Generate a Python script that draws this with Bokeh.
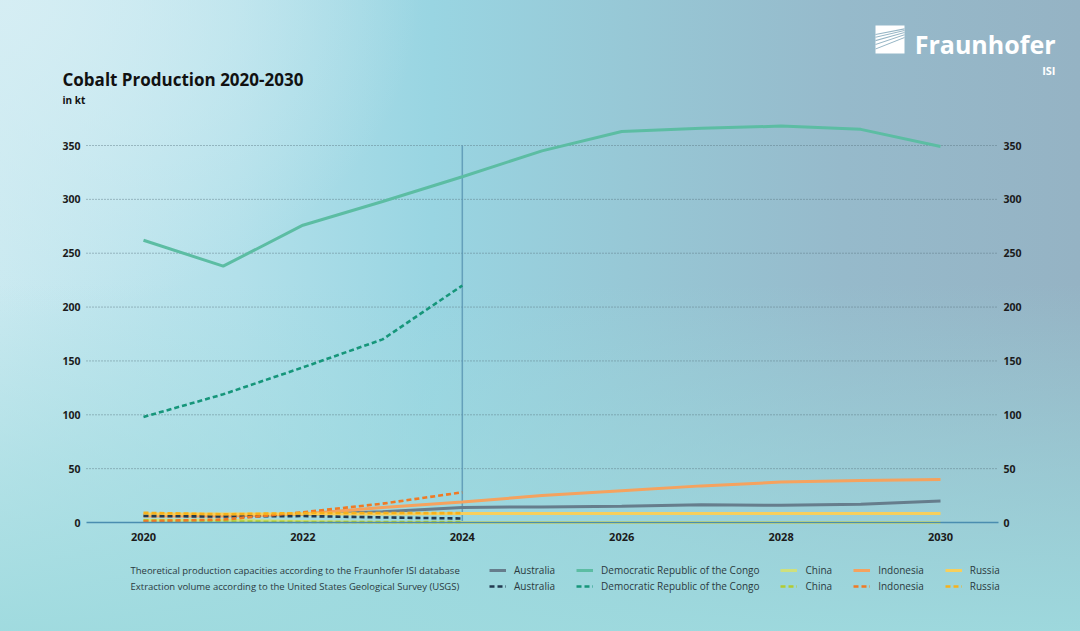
from bokeh.plotting import figure
from bokeh.models import (FixedTicker, Legend, LegendItem, Label, BoxAnnotation,
                          PolyAnnotation, InlineStyleSheet, Range1d, LinearAxis)
from bokeh.embed import file_html
from bokeh.resources import INLINE

# ---------------- data ----------------
years_theo = [2020, 2021, 2022, 2023, 2024, 2025, 2026, 2027, 2028, 2029, 2030]
years_usgs = [2020, 2021, 2022, 2023, 2024]

theo_australia = [6.5, 7, 7.5, 10, 14, 14.5, 15, 16.5, 16, 17, 20]
theo_drc = [262, 238, 276, 298, 321, 345, 363, 366, 368, 365, 349]
theo_china = [2, 2, 1, 0, 0, 0, 0, 0, 0, 0, 0]
theo_indonesia = [6, 6, 8, 14, 19, 25, 29.5, 34, 37.5, 39, 40]
theo_russia = [8, 8, 8, 8, 8.4, 8.4, 8.4, 8.4, 8.4, 8.4, 8.4]

usgs_australia = [6, 5.5, 6, 4.7, 3.7]
usgs_drc = [98, 119, 144, 170, 220]
usgs_china = [2, 1, 0.5, 0.5, 0.5]
usgs_indonesia = [1.3, 2.7, 9.5, 17.5, 28]
usgs_russia = [9, 7.6, 8.8, 8.8, 8.7]

countries = ["Australia", "Democratic Republic of the Congo", "China", "Indonesia", "Russia"]
theo_series = [theo_australia, theo_drc, theo_china, theo_indonesia, theo_russia]
usgs_series = [usgs_australia, usgs_drc, usgs_china, usgs_indonesia, usgs_russia]
theo_colors = ["#667d8c", "#5cbda3", "#cfe07c", "#f5a25e", "#f7cf5c"]
usgs_colors = ["#223a50", "#16967a", "#b2cc30", "#f07a24", "#f6b11c"]

x_ticks = [2020, 2022, 2024, 2026, 2028, 2030]
y_ticks = [0, 50, 100, 150, 200, 250, 300, 350]
grid_values = [50, 100, 150, 200, 250, 300, 350]
marker_year = 2024
marker_top = 350

title_text = "Cobalt Production 2020-2030"
unit_text = "in kt"
row_theo = "Theoretical production capacities according to the Fraunhofer ISI database"
row_usgs = "Extraction volume according to the United States Geological Survey (USGS)"

FONT = "Open Sans"

# ---------------- geometry (canvas = whole picture) ----------------
W, H = 1080, 631
PX_PER_YEAR = 79.7
X0 = 2020 - 143 / PX_PER_YEAR          # year at canvas left edge
PX_PER_KT = 377 / 350
Y0 = -(H - 522) / PX_PER_KT            # value at canvas bottom edge
X_LEFT = X0 + 86 / PX_PER_YEAR         # chart area left
X_RIGHT = X0 + 998 / PX_PER_YEAR       # chart area right

css = """
:host {
  background:
    radial-gradient(ellipse 420px 320px at 0% 0%, rgba(214,238,244,0.95) 0%, rgba(214,238,244,0) 100%),
    linear-gradient(to top, rgba(158,218,222,0.95) 0%, rgba(158,218,222,0.55) 25%, rgba(158,218,222,0) 55%),
    linear-gradient(to right, #c9e9f0 0%, #b2e0ea 22%, #99d5e2 40%, #97c8d6 58%, #96bacb 78%, #95b3c4 100%);
}
"""

p = figure(width=W, height=H, output_backend="svg", toolbar_location=None,
           x_range=Range1d(X0, X0 + W / PX_PER_YEAR),
           y_range=Range1d(Y0, Y0 + H / PX_PER_KT),
           min_border=0, min_border_left=0, min_border_right=0,
           min_border_top=0, min_border_bottom=0,
           stylesheets=[InlineStyleSheet(css=css)])
p.border_fill_color = None
p.background_fill_color = None
p.outline_line_color = None
p.xgrid.visible = False
p.ygrid.visible = False

# axes (fixed locations: take no panel space)
p.xaxis.ticker = FixedTicker(ticks=x_ticks)
p.xaxis.fixed_location = 0
p.xaxis.bounds = (X_LEFT, X_RIGHT)
p.xaxis.axis_line_color = "#4a8db0"
p.xaxis.axis_line_width = 1.5
p.xaxis.major_label_standoff = 10

p.yaxis.ticker = FixedTicker(ticks=y_ticks)
p.yaxis.fixed_location = X_LEFT
p.yaxis.axis_line_color = None
p.yaxis.major_label_standoff = 6

right_axis = LinearAxis(ticker=FixedTicker(ticks=y_ticks), fixed_location=X_RIGHT,
                        axis_line_color=None, major_label_standoff=5)
p.add_layout(right_axis, "right")

for ax in p.axis:
    ax.major_tick_line_color = None
    ax.minor_tick_line_color = None
    ax.major_tick_out = 0
    ax.major_tick_in = 0
    ax.major_label_text_font = FONT
    ax.major_label_text_font_style = "bold"
    ax.major_label_text_color = "#1b1b1b"
    ax.major_label_text_font_size = "10.5px"
p.xaxis.major_label_text_font_size = "11px"

# horizontal dotted grid lines within the chart area
p.segment(x0=X_LEFT, x1=X_RIGHT, y0=grid_values, y1=grid_values,
          line_color="#58737f", line_alpha=0.85, line_width=1, line_dash="1 2")

# 2024 marker line
p.segment(x0=[marker_year], y0=[0], x1=[marker_year], y1=[marker_top],
          line_color="#5b97b4", line_alpha=0.85, line_width=1.5)

theo_renderers = []
for vals, col in zip(theo_series, theo_colors):
    theo_renderers.append(p.line(years_theo, vals, line_color=col, line_width=3))
usgs_renderers = []
for vals, col in zip(usgs_series, usgs_colors):
    usgs_renderers.append(p.line(years_usgs, vals, line_color=col, line_width=2.6, line_dash="5 3"))

# legends
def make_legend(renderers, y):
    return Legend(items=[LegendItem(label=c, renderers=[r]) for c, r in zip(countries, renderers)],
                  orientation="horizontal", location=(489, y), padding=0, margin=0,
                  spacing=21, glyph_width=17, glyph_height=14, label_height=14,
                  label_standoff=8, label_text_font=FONT, label_text_font_size="10px",
                  label_text_color="#2b3a40", border_line_color=None,
                  background_fill_alpha=0)

p.add_layout(make_legend(theo_renderers, H - 577))
p.add_layout(make_legend(usgs_renderers, H - 593))

def screen_label(text, x, y_page, size, bold=False, color="#2b3a40", align="left"):
    p.add_layout(Label(x=x, y=H - y_page, x_units="screen", y_units="screen", text=text,
                       text_font=FONT, text_font_size=size, text_color=color,
                       text_font_style="bold" if bold else "normal",
                       text_baseline="middle", text_align=align))

screen_label(row_theo, 130, 570, "9.5px")
screen_label(row_usgs, 130, 586, "9.5px")
screen_label(title_text, 62, 79, "17px", bold=True, color="#111111")
screen_label(unit_text, 62, 99, "10px", bold=True, color="#111111")

# logo
screen_label("Fraunhofer", 1055, 43, "25px", bold=True, color="#ffffff", align="right")
screen_label("ISI", 1055, 70, "11px", bold=True, color="#ffffff", align="right")
box_top, box_bottom, box_left, box_right = H - 25, H - 53, 875, 904
p.add_layout(BoxAnnotation(left=box_left, right=box_right, top=box_top, bottom=box_bottom,
                           left_units="screen", right_units="screen",
                           top_units="screen", bottom_units="screen",
                           fill_color="#ffffff", fill_alpha=1, line_color=None))
gaps = [(0.30, 0.10), (0.40, 0.16), (0.52, 0.23), (0.66, 0.31), (0.82, 0.41)]
hgt = box_top - box_bottom
for yl, yr in gaps:
    y_left = box_top - yl * hgt
    y_right = box_top - yr * hgt
    p.add_layout(PolyAnnotation(xs=[box_left, box_right, box_right, box_left],
                                ys=[y_left, y_right, y_right - 1.1, y_left - 1.1],
                                xs_units="screen", ys_units="screen",
                                fill_color="#95b5c5", fill_alpha=1, line_color=None))

open("out.html", "w").write(file_html(p, INLINE))
